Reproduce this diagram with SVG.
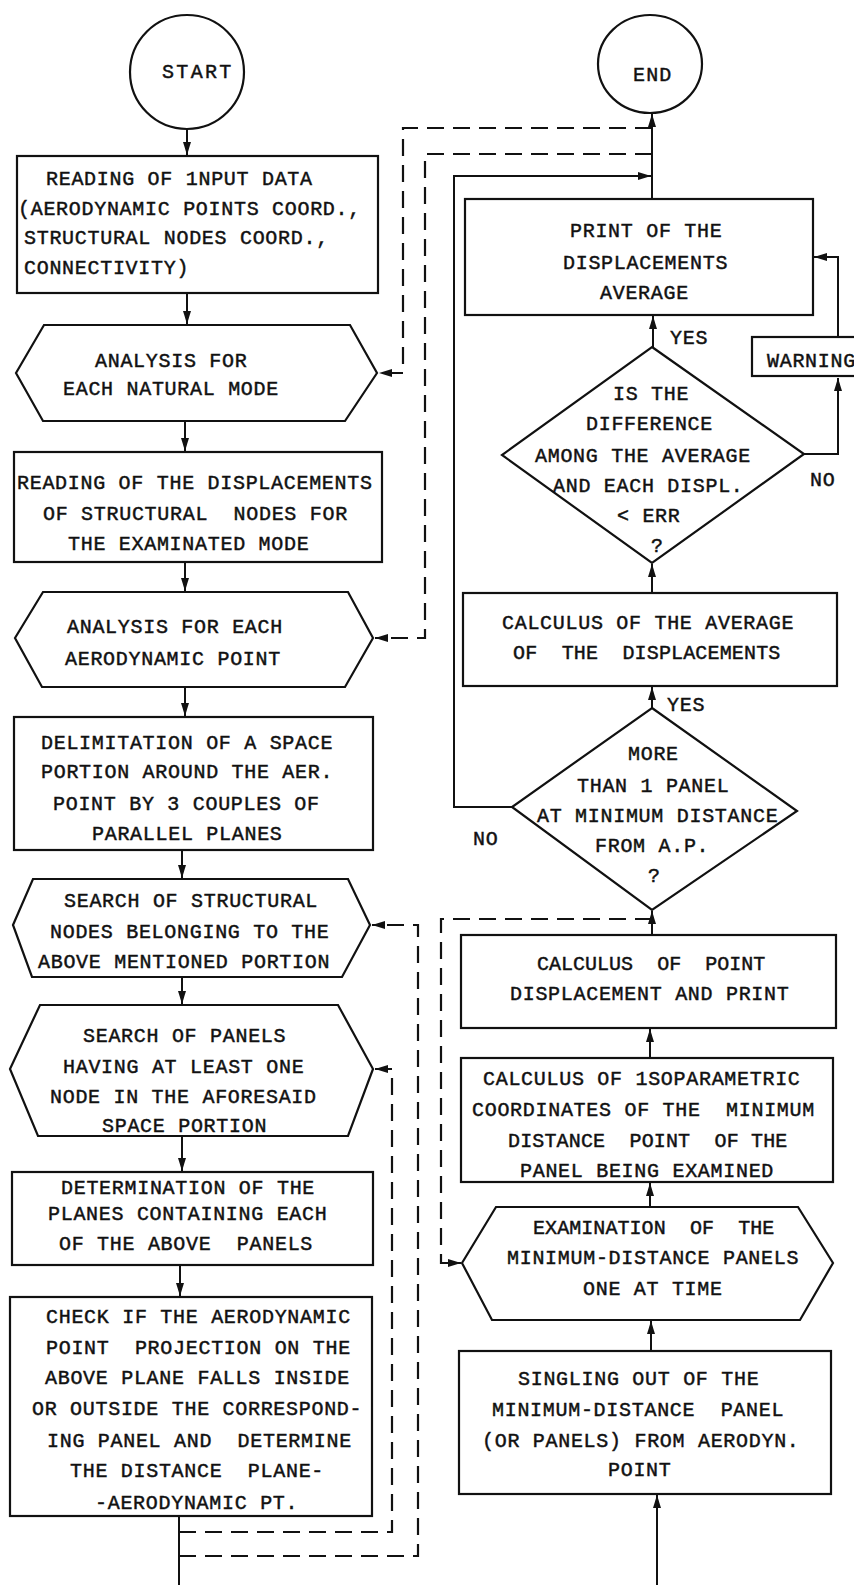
<svg xmlns="http://www.w3.org/2000/svg" width="854" height="1585" viewBox="0 0 854 1585" xml:space="preserve">
  <style>
    .shape { fill: none; stroke: #111; stroke-width: 2.2; }
    .line { fill: none; stroke: #111; stroke-width: 2; }
    .dash { fill: none; stroke: #111; stroke-width: 2.2; stroke-dasharray: 17 9; }
    text { font-family: "Liberation Mono", "DejaVu Sans Mono", monospace; font-size: 20px; letter-spacing: 0.7px; fill: #111; stroke: #111; stroke-width: 0.45; white-space: pre; }
  </style>
  <defs>
    <marker id="arrow" markerUnits="userSpaceOnUse" markerWidth="14" markerHeight="9" refX="13" refY="4" orient="auto">
      <path d="M0,0 L13,4 L0,8 z" fill="#111" stroke="none"/>
    </marker>
  </defs>
  <rect x="0" y="0" width="854" height="1585" fill="#fff"/>

  <!-- connectors -->
  <g id="connectors">
    <!-- main left column, top to bottom -->
    <path class="line" d="M187,129 V155" marker-end="url(#arrow)"/>
    <path class="line" d="M187,293 V324" marker-end="url(#arrow)"/>
    <path class="line" d="M185,421 V451" marker-end="url(#arrow)"/>
    <path class="line" d="M185,562 V591" marker-end="url(#arrow)"/>
    <path class="line" d="M185,687 V716" marker-end="url(#arrow)"/>
    <path class="line" d="M182,850 V878" marker-end="url(#arrow)"/>
    <path class="line" d="M182,977 V1004" marker-end="url(#arrow)"/>
    <path class="line" d="M182,1136 V1171" marker-end="url(#arrow)"/>
    <path class="line" d="M180,1265 V1296" marker-end="url(#arrow)"/>
    <path class="line" d="M179,1516 V1585"/>

    <!-- loop returns (dashed) -->
    <path class="dash" d="M179,1532 H392 V1069 H375" marker-end="url(#arrow)"/>
    <path class="dash" d="M179,1556 H418 V925 H372" marker-end="url(#arrow)"/>
    <path class="dash" d="M652,154 H425 V638 H375" marker-end="url(#arrow)"/>
    <path class="dash" d="M652,128 H403 V373 H379" marker-end="url(#arrow)"/>
    <path class="dash" d="M652,919 H441 V1263 H461" marker-end="url(#arrow)"/>

    <!-- right column, bottom to top -->
    <path class="line" d="M657,1585 V1495" marker-end="url(#arrow)"/>
    <path class="line" d="M651,1351 V1321" marker-end="url(#arrow)"/>
    <path class="line" d="M650,1207 V1183" marker-end="url(#arrow)"/>
    <path class="line" d="M650,1058 V1029" marker-end="url(#arrow)"/>
    <path class="line" d="M652,935 V911" marker-end="url(#arrow)"/>
    <path class="line" d="M652,708 V687" marker-end="url(#arrow)"/>
    <path class="line" d="M652,593 V564" marker-end="url(#arrow)"/>
    <path class="line" d="M653,347 V316" marker-end="url(#arrow)"/>
    <path class="line" d="M652,199 V114" marker-end="url(#arrow)"/>

    <!-- NO branch of the panel test -->
    <path class="line" d="M512,807 H454 V176 H651" marker-end="url(#arrow)"/>
    <!-- NO branch of the error test -->
    <path class="line" d="M804,454 H838 V378" marker-end="url(#arrow)"/>
    <path class="line" d="M838,337 V257 H814" marker-end="url(#arrow)"/>

    <text x="670" y="344">YES</text>
    <text x="667" y="711">YES</text>
    <text x="810" y="486">NO</text>
    <text x="473" y="845">NO</text>
  </g>

  <g id="start">
    <circle class="shape" cx="187" cy="72" r="57"/>
    <text x="162" y="78" textLength="70">START</text>
  </g>

  <g id="end">
    <ellipse class="shape" cx="650" cy="64" rx="52" ry="49"/>
    <text x="633" y="81" textLength="39">END</text>
  </g>

  <g id="read-input">
    <rect class="shape" x="17" y="156" width="361" height="137"/>
    <text x="46" y="185">READING OF 1NPUT DATA</text>
    <text x="18" y="215">(AERODYNAMIC POINTS COORD.,</text>
    <text x="24" y="244">STRUCTURAL NODES COORD.,</text>
    <text x="24" y="274">CONNECTIVITY)</text>
  </g>

  <g id="loop-modes">
    <polygon class="shape" points="16,373 44,325 350,325 377,373 345,421 43,421"/>
    <text x="95" y="367">ANALYSIS FOR</text>
    <text x="63" y="395">EACH NATURAL MODE</text>
  </g>

  <g id="read-displacements">
    <rect class="shape" x="14" y="452" width="368" height="110"/>
    <text x="17" y="489">READING OF THE DISPLACEMENTS</text>
    <text x="43" y="520">OF STRUCTURAL  NODES FOR</text>
    <text x="68" y="550">THE EXAMINATED MODE</text>
  </g>

  <g id="loop-points">
    <polygon class="shape" points="15,638 43,592 348,592 373,638 345,687 42,687"/>
    <text x="67" y="633">ANALYSIS FOR EACH</text>
    <text x="65" y="665">AERODYNAMIC POINT</text>
  </g>

  <g id="delimitation">
    <rect class="shape" x="14" y="717" width="359" height="133"/>
    <text x="41" y="749">DELIMITATION OF A SPACE</text>
    <text x="41" y="778">PORTION AROUND THE AER.</text>
    <text x="53" y="810">POINT BY 3 COUPLES OF</text>
    <text x="92" y="840">PARALLEL PLANES</text>
  </g>

  <g id="search-nodes">
    <polygon class="shape" points="13,925 33,879 348,879 370,925 342,977 32,977"/>
    <text x="64" y="907">SEARCH OF STRUCTURAL</text>
    <text x="50" y="938">NODES BELONGING TO THE</text>
    <text x="38" y="968">ABOVE MENTIONED PORTION</text>
  </g>

  <g id="search-panels">
    <polygon class="shape" points="10,1069 40,1005 338,1005 373,1069 348,1136 38,1136"/>
    <text x="83" y="1042">SEARCH OF PANELS</text>
    <text x="63" y="1073">HAVING AT LEAST ONE</text>
    <text x="50" y="1103">NODE IN THE AFORESAID</text>
    <text x="102" y="1132">SPACE PORTION</text>
  </g>

  <g id="determination">
    <rect class="shape" x="12" y="1172" width="361" height="93"/>
    <text x="61" y="1194">DETERMINATION OF THE</text>
    <text x="48" y="1220">PLANES CONTAINING EACH</text>
    <text x="59" y="1250">OF THE ABOVE  PANELS</text>
  </g>

  <g id="check-projection">
    <rect class="shape" x="10" y="1297" width="362" height="219"/>
    <text x="46" y="1323">CHECK IF THE AERODYNAMIC</text>
    <text x="46" y="1354">POINT  PROJECTION ON THE</text>
    <text x="45" y="1384">ABOVE PLANE FALLS INSIDE</text>
    <text x="32" y="1415">OR OUTSIDE THE CORRESPOND-</text>
    <text x="47" y="1447">ING PANEL AND  DETERMINE</text>
    <text x="70" y="1477">THE DISTANCE  PLANE-</text>
    <text x="95" y="1509">-AERODYNAMIC PT.</text>
  </g>

  <g id="print-average">
    <rect class="shape" x="465" y="199" width="348" height="116"/>
    <text x="570" y="237">PRINT OF THE</text>
    <text x="563" y="269">DISPLACEMENTS</text>
    <text x="600" y="299">AVERAGE</text>
  </g>

  <g id="warning">
    <rect class="shape" x="752" y="337" width="120" height="39"/>
    <text x="767" y="367">WARNING</text>
  </g>

  <g id="test-error">
    <polygon class="shape" points="652,347 804,454 652,563 502,455"/>
    <text x="613" y="400">IS THE</text>
    <text x="586" y="430">DIFFERENCE</text>
    <text x="535" y="462">AMONG THE AVERAGE</text>
    <text x="553" y="492">AND EACH DISPL.</text>
    <text x="617" y="522">&lt; ERR</text>
    <text x="651" y="552">?</text>
  </g>

  <g id="average">
    <rect class="shape" x="463" y="593" width="374" height="93"/>
    <text x="502" y="629">CALCULUS OF THE AVERAGE</text>
    <text x="513" y="659" textLength="268">OF  THE  DISPLACEMENTS</text>
  </g>

  <g id="test-panels">
    <polygon class="shape" points="652,708 797,811 652,910 512,807"/>
    <text x="628" y="760">MORE</text>
    <text x="577" y="792">THAN 1 PANEL</text>
    <text x="537" y="822">AT MINIMUM DISTANCE</text>
    <text x="595" y="852">FROM A.P.</text>
    <text x="648" y="882">?</text>
  </g>

  <g id="point-displacement">
    <rect class="shape" x="461" y="935" width="375" height="93"/>
    <text x="537" y="970" textLength="229">CALCULUS  OF  POINT</text>
    <text x="510" y="1000">DISPLACEMENT AND PRINT</text>
  </g>

  <g id="isoparametric">
    <rect class="shape" x="461" y="1058" width="372" height="124"/>
    <text x="483" y="1085">CALCULUS OF 1SOPARAMETRIC</text>
    <text x="472" y="1116">COORDINATES OF THE  MINIMUM</text>
    <text x="508" y="1147" textLength="280">DISTANCE  POINT  OF THE</text>
    <text x="520" y="1177">PANEL BEING EXAMINED</text>
  </g>

  <g id="loop-panels">
    <polygon class="shape" points="462,1263 496,1207 798,1207 833,1263 800,1320 492,1320"/>
    <text x="533" y="1234" textLength="242">EXAMINATION  OF  THE</text>
    <text x="507" y="1264">MINIMUM-DISTANCE PANELS</text>
    <text x="583" y="1295">ONE AT TIME</text>
  </g>

  <g id="singling-out">
    <rect class="shape" x="459" y="1351" width="372" height="143"/>
    <text x="518" y="1385">SINGLING OUT OF THE</text>
    <text x="492" y="1416">MINIMUM-DISTANCE  PANEL</text>
    <text x="482" y="1447">(OR PANELS) FROM AERODYN.</text>
    <text x="608" y="1476">POINT</text>
  </g>
</svg>
